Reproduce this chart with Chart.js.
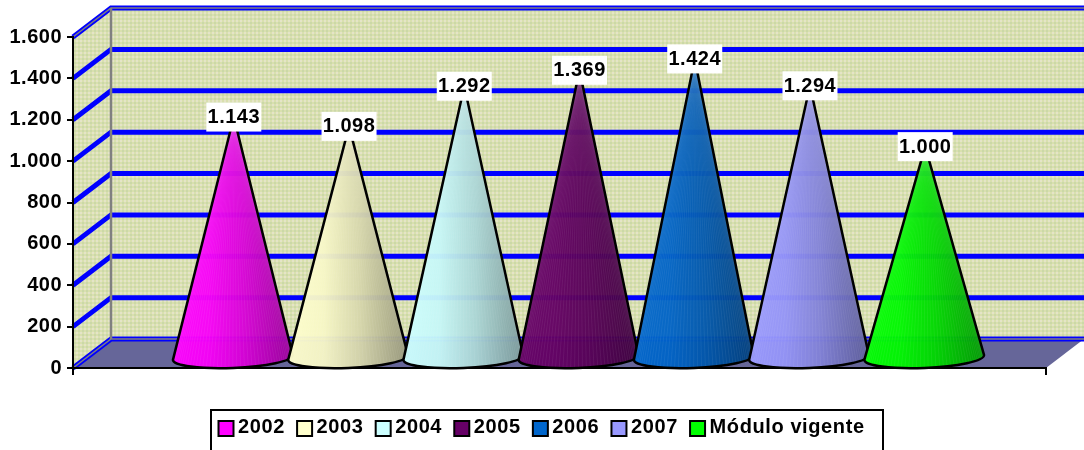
<!DOCTYPE html>
<html>
<head>
<meta charset="utf-8">
<style>
  html, body { margin: 0; padding: 0; background: #fff; }
  canvas { display: block; }
</style>
<script src="https://cdn.jsdelivr.net/npm/chart.js@4/dist/chart.umd.js"></script>
</head>
<body>
<canvas id="chart" width="1084" height="450"></canvas>
<script>
const years = ["2002", "2003", "2004", "2005", "2006", "2007", "Módulo vigente"];
const values = [1143, 1098, 1292, 1369, 1424, 1294, 1000];
const colors = ["#ff00ff", "#ffffcc", "#ccffff", "#660066", "#0066cc", "#9999ff", "#00ff00"];
const yTickValues = [0, 200, 400, 600, 800, 1000, 1200, 1400, 1600];
const yTickLabels = ["0", "200", "400", "600", "800", "1.000", "1.200", "1.400", "1.600"];
const valueLabels = ["1.143", "1.098", "1.292", "1.369", "1.424", "1.294", "1.000"];

const FONT = '"Liberation Sans", Arial, sans-serif';
const DEPTH_X = 38;
const DEPTH_Y = 29;

// darker version of a hex colour, for the cone shading
function shade(hex, f) {
  const n = parseInt(hex.slice(1), 16);
  const r = Math.round((n >> 16 & 255) * f);
  const g = Math.round((n >> 8 & 255) * f);
  const b = Math.round((n & 255) * f);
  return "rgb(" + r + "," + g + "," + b + ")";
}

function wallPattern(ctx) {
  const c = document.createElement("canvas");
  c.width = 4;
  c.height = 4;
  const p = c.getContext("2d");
  p.fillStyle = "#d9e0ae";
  p.fillRect(0, 0, 4, 4);
  p.fillStyle = "#e4e4c8";
  p.fillRect(0, 0, 2, 2);
  p.fillStyle = "#cbd8a8";
  p.fillRect(2, 2, 2, 2);
  return ctx.createPattern(c, "repeat");
}

function poly(ctx, pts) {
  ctx.beginPath();
  pts.forEach((p, i) => (i ? ctx.lineTo(p[0], p[1]) : ctx.moveTo(p[0], p[1])));
  ctx.closePath();
}

// 3D box behind the plot: floor, walls and the gridlines
const boxPlugin = {
  id: "box",
  beforeDraw(chart) {
    const { ctx, chartArea: a, scales } = chart;
    const l = a.left, r = a.right, t = a.top, b = a.bottom;
    const dx = DEPTH_X, dy = DEPTH_Y;
    ctx.save();
    ctx.fillStyle = "#666699";
    poly(ctx, [[l, b], [r, b], [r + dx, b - dy], [l + dx, b - dy]]);
    ctx.fill();
    ctx.fillStyle = wallPattern(ctx);
    poly(ctx, [[l, t], [l + dx, t - dy], [l + dx, b - dy], [l, b]]);
    ctx.fill();
    ctx.fillRect(l + dx, t - dy, r - l, b - t);

    yTickValues.forEach(v => {
      const y = scales.y.getPixelForValue(v);
      const edge = v === 0 || v === 1600;
      ctx.strokeStyle = "#0000ff";
      ctx.lineWidth = 5;
      ctx.beginPath();
      ctx.moveTo(l, y);
      ctx.lineTo(l + dx, y - dy);
      ctx.lineTo(r + dx + 2, y - dy);
      ctx.stroke();
      if (edge) {
        ctx.strokeStyle = "#808080";
        ctx.lineWidth = 1.5;
        ctx.beginPath();
        ctx.moveTo(l, y);
        ctx.lineTo(l + dx, y - dy);
        ctx.lineTo(r + dx + 2, y - dy);
        ctx.stroke();
      }
    });
    ctx.strokeStyle = "#808080";
    ctx.lineWidth = 2.5;
    ctx.beginPath();
    ctx.moveTo(l + dx, t - dy);
    ctx.lineTo(l + dx, b - dy);
    ctx.stroke();
    ctx.restore();
    // tick labels in the reference are spaced a little wider
    ctx.letterSpacing = "0.5px";
  }
};

function drawCone(ctx, cx, tipY, baseY, rx, color) {
  const ry = 10.5, tilt = -0.04;
  const rxp = cx + rx * Math.cos(tilt), ryp = baseY + rx * Math.sin(tilt);
  const path = () => {
    ctx.beginPath();
    ctx.moveTo(cx + 1, tipY);
    ctx.lineTo(rxp, ryp);
    ctx.ellipse(cx, baseY, rx, ry, tilt, 0, Math.PI);
    ctx.closePath();
  };
  ctx.save();
  const g = ctx.createLinearGradient(cx - rx, 0, cx + rx, 0);
  g.addColorStop(0, color);
  g.addColorStop(0.3, shade(color, 0.97));
  g.addColorStop(0.6, shade(color, 0.84));
  g.addColorStop(1, shade(color, 0.6));
  path();
  ctx.globalAlpha = 0.96;
  ctx.fillStyle = g;
  ctx.fill();
  ctx.globalAlpha = 1;
  // facet lines from the apex to the base
  ctx.clip();
  ctx.lineWidth = 0.7;
  ctx.strokeStyle = "rgba(255,255,255,0.09)";
  for (let i = 0; i <= 48; i++) {
    const a = Math.PI * i / 48;
    ctx.beginPath();
    ctx.moveTo(cx + 1, tipY);
    ctx.lineTo(cx - rx * Math.cos(a), baseY + ry * Math.sin(a));
    ctx.stroke();
  }
  ctx.restore();
  path();
  ctx.lineWidth = 2.5;
  ctx.lineJoin = "round";
  ctx.strokeStyle = "#000";
  ctx.stroke();
}

// cones and value labels replace the bars of each dataset
const conePlugin = {
  id: "cones",
  beforeDatasetsDraw(chart) {
    const { ctx, chartArea: a, scales } = chart;
    ctx.save();
    const points = chart.data.datasets.map((ds, i) => chart.getDatasetMeta(i).data[0]);
    points.forEach((el, i) => {
      const tipY = scales.y.getPixelForValue(values[i]) - DEPTH_Y / 2;
      drawCone(ctx, el.x + DEPTH_X / 2, tipY, a.bottom - 10.5, el.width * 0.52, colors[i]);
    });
    ctx.font = "bold 20px " + FONT;
    ctx.letterSpacing = "0.5px";
    ctx.textAlign = "center";
    ctx.textBaseline = "middle";
    points.forEach((el, i) => {
      const y = scales.y.getPixelForValue(values[i]);
      const x = el.x + DEPTH_X / 2 + 1;
      ctx.fillStyle = "#fff";
      ctx.fillRect(x - 27.5, y - 29, 55, 29);
      ctx.fillStyle = "#000";
      ctx.fillText(valueLabels[i], x, y - 14);
    });
    ctx.restore();
    return false;
  }
};

// boxed legend under the plot
const legendPlugin = {
  id: "boxLegend",
  afterDraw(chart) {
    const { ctx } = chart;
    ctx.save();
    ctx.strokeStyle = "#000";
    ctx.lineWidth = 2;
    ctx.strokeRect(211, 410, 672, 42);
    ctx.font = "bold 20px " + FONT;
    ctx.letterSpacing = "0.6px";
    ctx.textBaseline = "middle";
    let x = 218.5;
    years.forEach((label, i) => {
      ctx.fillStyle = colors[i];
      ctx.fillRect(x, 421, 15, 15);
      ctx.strokeRect(x, 421, 15, 15);
      ctx.fillStyle = "#000";
      ctx.fillText(label, x + 19.5, 427.5);
      x += 19.5 + ctx.measureText(label).width + 12.2;
    });
    ctx.restore();
  }
};

new Chart(document.getElementById("chart"), {
  type: "bar",
  data: {
    labels: [""],
    datasets: years.map((y, i) => ({
      label: y,
      data: [values[i]],
      backgroundColor: colors[i]
    }))
  },
  options: {
    responsive: false,
    animation: false,
    devicePixelRatio: 1,
    categoryPercentage: 0.829,
    barPercentage: 1,
    layout: { padding: { top: 37, right: 38, bottom: 75, left: 0 } },
    plugins: {
      legend: { display: false },
      tooltip: { enabled: false }
    },
    scales: {
      x: {
        grid: { offset: true, drawOnChartArea: false, color: "#000", lineWidth: 2, tickLength: 7 },
        border: { color: "#000", width: 2 },
        ticks: { display: false }
      },
      y: {
        min: 0,
        max: 1600,
        afterFit(scale) { scale.width = 73; },
        afterBuildTicks(scale) { scale.ticks = yTickValues.map(v => ({ value: v })); },
        grid: { drawOnChartArea: false, color: "#000", lineWidth: 2, tickLength: 6 },
        border: { color: "#000", width: 2 },
        ticks: {
          padding: 5,
          color: "#000",
          font: { family: FONT, size: 20, weight: "bold" },
          callback: (v) => yTickLabels[yTickValues.indexOf(v)]
        }
      }
    }
  },
  plugins: [boxPlugin, conePlugin, legendPlugin]
});
</script>
</body>
</html>
